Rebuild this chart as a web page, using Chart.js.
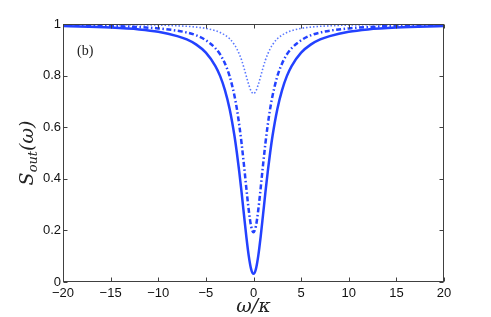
<!DOCTYPE html>
<html>
<head>
<meta charset="utf-8">
<script src="https://cdn.jsdelivr.net/npm/chart.js@4.4.0/dist/chart.umd.min.js"></script>
<style>
  html, body { margin: 0; padding: 0; background: #fff; }
</style>
</head>
<body>
<canvas id="chart" width="491" height="317"></canvas>
<script>
// omega / kappa sample positions
const omega = [-20, -15, -12, -10, -8, -7, -6, -5, -4, -3.5, -3, -2.5, -2, -1.75, -1.5, -1.25, -1, -0.75, -0.5, -0.25,
  0, 0.25, 0.5, 0.75, 1, 1.25, 1.5, 1.75, 2, 2.5, 3, 3.5, 4, 5, 6, 7, 8, 10, 12, 15, 20];

// S_out
const solidCurve = [0.992, 0.986, 0.979, 0.970, 0.953, 0.940, 0.920, 0.889, 0.837, 0.798, 0.744, 0.670, 0.567, 0.502, 0.429, 0.347, 0.260, 0.175, 0.101, 0.050,
  0.032, 0.050, 0.101, 0.175, 0.260, 0.347, 0.429, 0.502, 0.567, 0.670, 0.744, 0.798, 0.837, 0.889, 0.920, 0.940, 0.953, 0.970, 0.979, 0.986, 0.992];
const dashDotCurve = [0.996, 0.993, 0.988, 0.983, 0.974, 0.967, 0.956, 0.937, 0.906, 0.882, 0.847, 0.797, 0.722, 0.672, 0.610, 0.537, 0.453, 0.363, 0.279, 0.216,
  0.193, 0.216, 0.279, 0.363, 0.453, 0.537, 0.610, 0.672, 0.722, 0.797, 0.847, 0.882, 0.906, 0.937, 0.956, 0.967, 0.974, 0.983, 0.988, 0.993, 0.996];
const dottedCurve = [0.999, 0.998, 0.997, 0.996, 0.993, 0.991, 0.988, 0.983, 0.974, 0.967, 0.957, 0.943, 0.920, 0.904, 0.884, 0.860, 0.830, 0.797, 0.765, 0.740,
  0.730, 0.740, 0.765, 0.797, 0.830, 0.860, 0.884, 0.904, 0.920, 0.943, 0.957, 0.967, 0.974, 0.983, 0.988, 0.991, 0.993, 0.996, 0.997, 0.998, 0.999];

const xTicks = [-20, -15, -10, -5, 0, 5, 10, 15, 20];
const yTicks = [0, 0.2, 0.4, 0.6, 0.8, 1];

const panelLabel = '(b)';
const xTitle = 'ω/κ';

function toPoints(vals) {
  return omega.map((w, i) => ({ x: w, y: vals[i] }));
}

const blue = 'rgb(35,65,255)';

// box around the plot with inward ticks, MATLAB style
const framePlugin = {
  id: 'frame',
  afterDatasetsDraw(chart) {
    const { ctx, chartArea: a, scales } = chart;
    const L = Math.round(a.left) + 0.5, R = Math.round(a.right) - 0.5;
    const T = Math.round(a.top) + 0.5, B = Math.round(a.bottom) - 0.5;
    ctx.save();
    ctx.strokeStyle = '#404040';
    ctx.lineWidth = 1;
    ctx.setLineDash([]);
    ctx.strokeRect(L, T, R - L, B - T);
    ctx.beginPath();
    xTicks.forEach(v => {
      const px = Math.round(scales.x.getPixelForValue(v)) + 0.5;
      ctx.moveTo(px, B); ctx.lineTo(px, B - 4);
      ctx.moveTo(px, T); ctx.lineTo(px, T + 4);
    });
    yTicks.forEach(v => {
      const py = Math.round(scales.y.getPixelForValue(v)) + 0.5;
      ctx.moveTo(L, py); ctx.lineTo(L + 4, py);
      ctx.moveTo(R, py); ctx.lineTo(R - 4, py);
    });
    ctx.stroke();
    ctx.restore();
  },
  afterDraw(chart) {
    const { ctx, chartArea: a } = chart;
    ctx.save();
    ctx.fillStyle = '#222';

    // panel label
    ctx.font = '14px "Liberation Serif"';
    ctx.textBaseline = 'middle';
    ctx.textAlign = 'left';
    ctx.fillText(panelLabel, 77, 51);

    // x axis title
    ctx.font = 'italic 19px "DejaVu Serif"';
    ctx.textAlign = 'center';
    ctx.fillText(xTitle, (a.left + a.right) / 2, 307);

    // y axis title S_out(ω), rotated
    const big = 'italic 19px "DejaVu Serif"', small = 'italic 13px "DejaVu Serif"';
    ctx.font = big; const wS = ctx.measureText('S').width;
    const wP = ctx.measureText('(ω)').width;
    ctx.font = small; const wO = ctx.measureText('out').width;
    const total = wS + wO + wP;
    ctx.translate(33, (a.top + a.bottom) / 2);
    ctx.rotate(-Math.PI / 2);
    ctx.textAlign = 'left';
    ctx.textBaseline = 'alphabetic';
    let x0 = -total / 2;
    ctx.font = big; ctx.fillText('S', x0, 0); x0 += wS;
    ctx.font = small; ctx.fillText('out', x0, 4); x0 += wO;
    ctx.font = big; ctx.fillText('(ω)', x0, 0);
    ctx.restore();
  }
};

new Chart(document.getElementById('chart'), {
  type: 'line',
  data: {
    datasets: [
      {
        label: 'solid',
        data: toPoints(solidCurve),
        borderColor: blue,
        borderWidth: 2.5,
        pointRadius: 0,
        cubicInterpolationMode: 'monotone',
        fill: false
      },
      {
        label: 'dash-dot',
        data: toPoints(dashDotCurve),
        borderColor: blue,
        borderWidth: 2.5,
        borderDash: [5, 2.5, 1.5, 2.5],
        pointRadius: 0,
        cubicInterpolationMode: 'monotone',
        fill: false
      },
      {
        label: 'dotted',
        data: toPoints(dottedCurve),
        borderColor: 'rgb(90,120,255)',
        borderWidth: 1.6,
        borderDash: [1.5, 2],
        pointRadius: 0,
        cubicInterpolationMode: 'monotone',
        fill: false
      }
    ]
  },
  options: {
    responsive: false,
    animation: false,
    devicePixelRatio: 1,
    layout: { padding: { left: 0, right: 47, top: 24, bottom: 0 } },
    plugins: {
      legend: { display: false },
      tooltip: { enabled: false }
    },
    scales: {
      x: {
        type: 'linear',
        min: -20,
        max: 20,
        grid: { display: false, drawTicks: false },
        border: { display: false },
        afterFit: s => { s.height = 35; },
        afterBuildTicks: s => { s.ticks = xTicks.map(v => ({ value: v })); },
        ticks: {
          autoSkip: false,
          maxRotation: 0,
          padding: 4,
          color: '#111',
          font: { family: '"Liberation Sans", Arial, sans-serif', size: 13 },
          callback: v => v < 0 ? '\u2212' + Math.abs(v) : String(v)
        }
      },
      y: {
        min: 0,
        max: 1,
        grid: { display: false, drawTicks: false },
        border: { display: false },
        afterFit: s => { s.width = 63; },
        afterBuildTicks: s => { s.ticks = yTicks.map(v => ({ value: v })); },
        ticks: {
          padding: 2,
          color: '#111',
          font: { family: '"Liberation Sans", Arial, sans-serif', size: 13 },
          callback: v => String(+Number(v).toFixed(1))
        }
      }
    }
  },
  plugins: [framePlugin]
});
</script>
</body>
</html>
